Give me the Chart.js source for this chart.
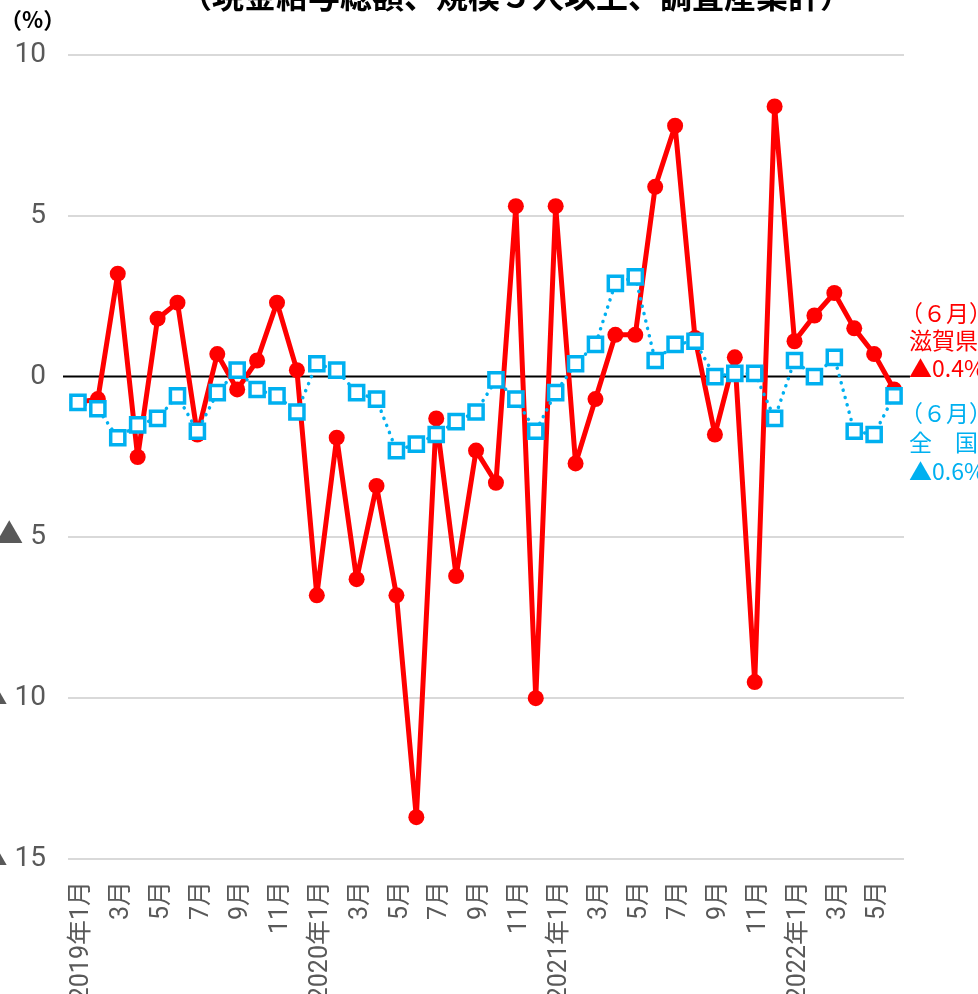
<!DOCTYPE html>
<html>
<head>
<meta charset="utf-8">
<script src="https://cdn.jsdelivr.net/npm/chart.js@4"></script>
<style>
  html, body { margin: 0; padding: 0; background: #fff; overflow: hidden; }
  #wrap { width: 978px; height: 994px; }
</style>
</head>
<body>
<div id="wrap"><canvas id="wage-chart" width="978" height="994"></canvas></div>
<script>
  // 月次ラベル（2019年1月〜2022年6月）
  const months = [
    "2019年1月","","3月","","5月","","7月","","9月","","11月","",
    "2020年1月","","3月","","5月","","7月","","9月","","11月","",
    "2021年1月","","3月","","5月","","7月","","9月","","11月","",
    "2022年1月","","3月","","5月",""
  ];

  // 前年同月比（%）
  const shiga = [
    -0.8, -0.7, 3.2, -2.5, 1.8, 2.3, -1.8, 0.7, -0.4, 0.5, 2.3, 0.2,
    -6.8, -1.9, -6.3, -3.4, -6.8, -13.7, -1.3, -6.2, -2.3, -3.3, 5.3, -10.0,
    5.3, -2.7, -0.7, 1.3, 1.3, 5.9, 7.8, 1.2, -1.8, 0.6, -9.5, 8.4,
    1.1, 1.9, 2.6, 1.5, 0.7, -0.4
  ];
  const zenkoku = [
    -0.8, -1.0, -1.9, -1.5, -1.3, -0.6, -1.7, -0.5, 0.2, -0.4, -0.6, -1.1,
    0.4, 0.2, -0.5, -0.7, -2.3, -2.1, -1.8, -1.4, -1.1, -0.1, -0.7, -1.7,
    -0.5, 0.4, 1.0, 2.9, 3.1, 0.5, 1.0, 1.1, 0.0, 0.1, 0.1, -1.3,
    0.5, 0.0, 0.6, -1.7, -1.8, -0.6
  ];

  const yTicks = [10, 5, 0, -5, -10, -15];

  const RED = "#ff0000";
  const BLUE = "#00b0f0";
  const GRAY = "#595959";
  const CJK = '"Noto Sans CJK JP", "Noto Sans", sans-serif';
  const NUM = 'Roboto, "Noto Sans CJK JP", sans-serif';

  function fmt(v){
    return v < 0 ? "▲" + Math.abs(v).toFixed(1) + "%" : v.toFixed(1) + "%";
  }

  const extras = {
    id: "extras",
    beforeDatasetsDraw(chart){
      const { ctx, scales: { y }, chartArea } = chart;
      const y0 = y.getPixelForValue(0);
      ctx.save();
      ctx.strokeStyle = "#000";
      ctx.lineWidth = 2;
      ctx.beginPath();
      ctx.moveTo(chartArea.left - 5, y0);
      ctx.lineTo(chartArea.right + 6, y0);
      ctx.stroke();
      ctx.restore();
    },
    afterDraw(chart){
      const { ctx } = chart;
      ctx.save();
      // タイトル（上端で切れている）
      ctx.fillStyle = "#000";
      ctx.font = "bold 32px " + CJK;
      ctx.textAlign = "center";
      ctx.textBaseline = "middle";
      ctx.fillText("（現金給与総額、規模５人以上、調査産業計）", 516, -4);

      // 単位
      ctx.font = "bold 22px " + CJK;
      ctx.textAlign = "left";
      ctx.fillText("（%）", 0, 20);

      // 右側の注記
      ctx.font = "23px " + CJK;
      ctx.fillStyle = RED;
      ctx.fillText("（６月）", 900, 313);
      ctx.fillText("滋賀県", 909, 340);
      ctx.fillText(fmt(shiga[shiga.length - 1]), 909, 368);
      ctx.fillStyle = BLUE;
      ctx.fillText("（６月）", 900, 413);
      ctx.fillText("全　国", 909, 442);
      ctx.fillText(fmt(zenkoku[zenkoku.length - 1]), 909, 471);
      ctx.restore();
    }
  };

  new Chart(document.getElementById("wage-chart"), {
    type: "line",
    data: {
      labels: months,
      datasets: [
        {
          label: "全国",
          data: zenkoku,
          borderColor: BLUE,
          borderWidth: 3.5,
          borderDash: [0.1, 7.5],
          borderCapStyle: "round",
          pointStyle: "rect",
          pointRadius: 10,
          pointBorderWidth: 3.5,
          pointBorderColor: BLUE,
          pointBackgroundColor: "#fff",
          tension: 0,
          order: 0
        },
        {
          label: "滋賀県",
          data: shiga,
          borderColor: RED,
          borderWidth: 5,
          borderJoinStyle: "round",
          pointStyle: "circle",
          pointRadius: 8,
          pointBorderWidth: 0,
          pointBackgroundColor: RED,
          tension: 0,
          order: 1
        }
      ]
    },
    options: {
      responsive: false,
      animation: false,
      events: [],
      layout: { padding: { top: 55, right: 74, left: 0, bottom: 0 } },
      plugins: {
        legend: { display: false },
        tooltip: { enabled: false }
      },
      scales: {
        x: {
          offset: true,
          grid: { display: false, drawTicks: false },
          border: { display: false },
          ticks: {
            autoSkip: false,
            minRotation: 90,
            maxRotation: 90,
            padding: 22,
            labelOffset: 4,
            color: GRAY,
            font: { family: NUM, size: 25 }
          },
          afterFit(scale){ scale.height = 135; }
        },
        y: {
          min: -15,
          max: 10,
          afterBuildTicks(scale){ scale.ticks = yTicks.map(v => ({ value: v })); },
          grid: {
            drawTicks: false,
            lineWidth: 2,
            color: c => c.tick && c.tick.value === 0 ? "rgba(0,0,0,0)" : "#d9d9d9"
          },
          border: { display: false },
          ticks: {
            padding: 22,
            color: GRAY,
            font: { family: NUM, size: 28 },
            callback: v => v < 0 ? "▲ " + Math.abs(v) : String(v)
          },
          afterFit(scale){ scale.width = 68; }
        }
      }
    },
    plugins: [extras]
  });
</script>
</body>
</html>
